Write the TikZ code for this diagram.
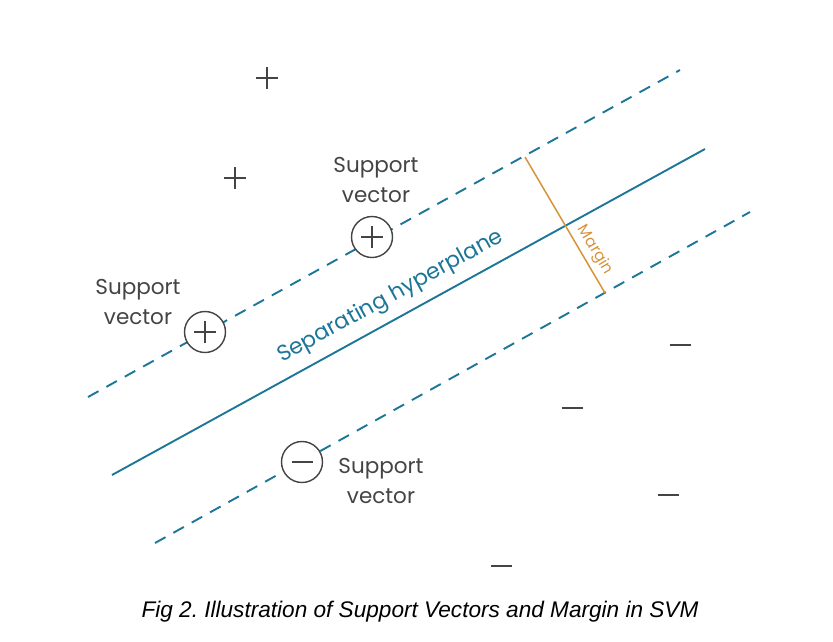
\documentclass[tikz,border=0pt]{standalone}
\usepackage{fontspec}
\setmainfont{Poppins}
\newfontfamily\capfont{Liberation Sans}
\usetikzlibrary{calc}
\definecolor{planeblue}{RGB}{28,118,152}
\definecolor{margorange}{RGB}{214,148,58}
\definecolor{markgray}{RGB}{68,68,68}
\tikzset{
  plane/.style= {draw=planeblue, line width=1.9pt},
  bound/.style= {draw=planeblue, line width=1.9pt, dash pattern=on 12pt off 9pt},
  marg/.style= {draw=margorange, line width=1.5pt},
  svec/.style= {draw=markgray, circle, fill=white, line width=1.4pt, minimum size=41pt, inner sep=0pt},
  lbl/.style= {text=markgray, font=\fontsize{21.5}{30}\selectfont, align=center},
  pt/.style= {draw=markgray, line width=1.3pt},
  plusmark/.pic= {\draw[pt] (-11,0) -- (11,0) (0,-11) -- (0,11);},
  minusmark/.pic= {\draw[pt] (-10.5,0) -- (10.5,0);},
}
\frenchspacing

\begin{document}
\begin{tikzpicture}[x=1pt, y=-1pt]
  \useasboundingbox (0,0) rectangle (833,641);

  % margin boundaries and hyperplane
  \coordinate (ua) at (88,397) ;
  \coordinate (ub) at (680,70) ;
  \coordinate (ha) at (112,475) ;
  \coordinate (hb) at (705,149) ;
  \coordinate (la) at (155,543) ;
  \coordinate (lb) at (750,212) ;
  \draw [bound] (ua) -- (ub) ;
  \draw [plane] (ha) -- (hb) ;
  \draw [bound] (la) -- (lb) ;

  % margin
  \coordinate (mtop) at (525,157) ;
  \coordinate (mbot) at (605,293) ;
  \draw [marg] (mtop) -- (mbot) ;
  \node [text=margorange, font=\fontsize{15.5}{18}\selectfont, rotate=-59.3] (mlabel) at (595,250) {Margin} ;
  \node [text=planeblue, font=\fontsize{22}{26}\selectfont, rotate=28.8] (hlabel) at (391,297) {Separating hyperplane} ;

  % support vectors
  \node [svec] (sv1) at (205,332) {} ;
  \node [svec] (sv2) at (372,237) {} ;
  \node [svec] (sv3) at (302,462) {} ;
  \pic at (sv1) {plusmark} ;
  \pic at (sv2) {plusmark} ;
  \pic at (sv3) {minusmark} ;
  \node [lbl] (l1) at (138,302) {Support\\vector} ;
  \node [lbl] (l2) at (376,180) {Support\\vector} ;
  \node [lbl] (l3) at (381,481) {Support\\vector} ;

  % other points
  \pic at (267,78) {plusmark} ;
  \pic at (235,178) {plusmark} ;
  \foreach \px/\py in {680/345, 572/408, 668/495, 501/566}
    \pic at (\px,\py) {minusmark} ;

  \node [font=\capfont\itshape\fontsize{22.6}{26}\selectfont] (cap) at (420,612) {Fig 2. Illustration of Support Vectors and Margin in SVM} ;
\end{tikzpicture}
\end{document}
